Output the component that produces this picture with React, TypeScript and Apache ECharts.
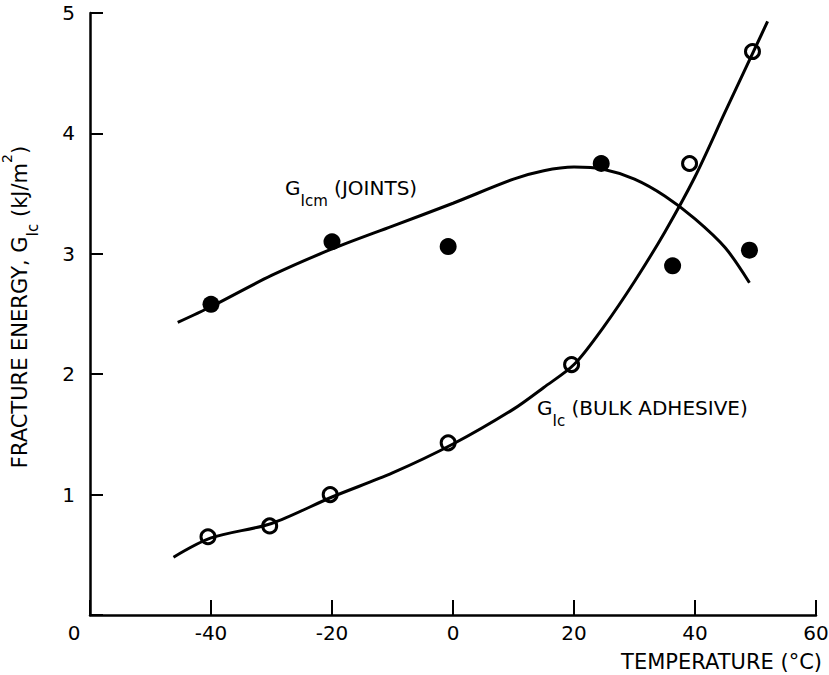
import React, { useEffect, useRef } from "react";
import * as echarts from "echarts";

// Measured points
const jointsT = [-40, -20, -0.8, 24.5, 36.3, 49];
const jointsG = [2.58, 3.1, 3.06, 3.75, 2.9, 3.03];
const bulkT = [-40.5, -30.3, -20.3, -0.8, 19.6, 39.1, 49.5];
const bulkG = [0.65, 0.74, 1.0, 1.43, 2.08, 3.75, 4.68];

// Hand-drawn fitted curves
const jointsCurveT = [-45.5, -40, -30, -20, -10, 0, 10, 15, 20, 25, 30, 35, 40, 45, 49];
const jointsCurveG = [2.43, 2.56, 2.82, 3.04, 3.23, 3.42, 3.62, 3.69, 3.72, 3.7, 3.62, 3.48, 3.29, 3.05, 2.76];
const bulkCurveT = [-46.2, -40, -30, -20, -10, 0, 10, 15, 20, 25, 30, 35, 40, 45, 52];
const bulkCurveG = [0.48, 0.64, 0.76, 0.98, 1.18, 1.42, 1.71, 1.89, 2.08, 2.4, 2.77, 3.18, 3.64, 4.18, 4.93];

const xTicks = [-60, -40, -20, 0, 20, 40, 60];
const yTicks = [0, 1, 2, 3, 4, 5];

const xName = "TEMPERATURE (°C)";
const jointsLabel = ["G", "Icm", " (JOINTS)"];
const bulkLabel = ["G", "Ic", " (BULK ADHESIVE)"];

const FONT = "DejaVu Sans";

const zip = (a: number[], b: number[]) => a.map((v, i) => [v, b[i]]);

const richStyles = {
  b: { fontSize: 20, fontFamily: FONT, lineHeight: 40, verticalAlign: "middle", color: "#000" },
  s: { fontSize: 15, fontFamily: FONT, lineHeight: 40, verticalAlign: "bottom", color: "#000" },
  p: { fontSize: 14, fontFamily: FONT, lineHeight: 40, verticalAlign: "top", color: "#000" },
};

export default function App() {
  const ref = useRef<HTMLDivElement>(null);
  useEffect(() => {
    if (!ref.current) return;
    const chart = echarts.init(ref.current, null, { renderer: "svg" });
    const axisLine = { show: true, onZero: false, lineStyle: { color: "#000", width: 2.5 } };
    chart.setOption({
      animation: false,
      backgroundColor: "#fff",
      grid: { left: 90, right: 13, top: 13, bottom: 60, outerBoundsMode: "none", containLabel: false },
      xAxis: {
        type: "value",
        min: xTicks[0],
        max: xTicks[xTicks.length - 1],
        interval: 20,
        axisLine,
        axisTick: { show: true, inside: true, length: 15, lineStyle: { color: "#000", width: 2 } },
        splitLine: { show: false },
        axisLabel: {
          margin: 8,
          color: "#000",
          fontSize: 20,
          fontFamily: FONT,
          formatter: (v: number) => (v === xTicks[0] ? "{o|0}" : String(v)),
          rich: { o: { fontSize: 20, fontFamily: FONT, color: "#000", padding: [0, 32, 0, 0] } },
        },
        name: xName,
        nameLocation: "end",
        nameGap: 6,
        nameTextStyle: {
          color: "#000",
          fontSize: 21,
          fontFamily: FONT,
          align: "right",
          verticalAlign: "top",
          padding: [36, 0, 0, 0],
        },
      },
      yAxis: {
        type: "value",
        min: yTicks[0],
        max: yTicks[yTicks.length - 1],
        interval: 1,
        axisLine,
        axisTick: { show: true, inside: true, length: 13, lineStyle: { color: "#000", width: 2 } },
        splitLine: { show: false },
        axisLabel: {
          margin: 15,
          color: "#000",
          fontSize: 20,
          fontFamily: FONT,
          formatter: (v: number) => (v === 0 ? "" : String(v)),
        },
        name: "{b|FRACTURE ENERGY, G}{s|Ic}{b| (kJ/m}{p|2}{b|)}",
        nameLocation: "middle",
        nameGap: 50,
        nameTextStyle: {
          color: "#000",
          fontSize: 21,
          fontFamily: FONT,
          padding: [0, 0, 0, 14],
          rich: {
            b: { ...richStyles.b, fontSize: 21 },
            s: { ...richStyles.s, fontSize: 15 },
            p: { ...richStyles.p, fontSize: 14 },
          },
        },
      },
      graphic: [
        {
          type: "text",
          x: 285,
          y: 188,
          style: {
            text: `{b|${jointsLabel[0]}}{s|${jointsLabel[1]}}{b|${jointsLabel[2]}}`,
            rich: richStyles,
            verticalAlign: "middle",
            align: "left",
          },
        },
        {
          type: "text",
          x: 537,
          y: 408,
          style: {
            text: `{b|${bulkLabel[0]}}{s|${bulkLabel[1]}}{b|${bulkLabel[2]}}`,
            rich: richStyles,
            verticalAlign: "middle",
            align: "left",
          },
        },
      ],
      series: [
        {
          type: "line",
          data: zip(jointsCurveT, jointsCurveG),
          smooth: 0.3,
          showSymbol: false,
          silent: true,
          lineStyle: { color: "#000", width: 3 },
        },
        {
          type: "line",
          data: zip(bulkCurveT, bulkCurveG),
          smooth: 0.3,
          showSymbol: false,
          silent: true,
          lineStyle: { color: "#000", width: 3 },
        },
        {
          type: "scatter",
          data: zip(jointsT, jointsG),
          symbol: "circle",
          symbolSize: 17,
          silent: true,
          itemStyle: { color: "#000", opacity: 1 },
        },
        {
          type: "scatter",
          data: zip(bulkT, bulkG),
          symbol: "circle",
          symbolSize: 14,
          silent: true,
          itemStyle: { color: "#fff", borderColor: "#000", borderWidth: 3, opacity: 1 },
        },
      ],
    });
    return () => chart.dispose();
  }, []);
  return (
    <div
      ref={ref}
      style={{ position: "absolute", left: 0, top: 0, width: 829, height: 675, background: "#fff" }}
    />
  );
}
